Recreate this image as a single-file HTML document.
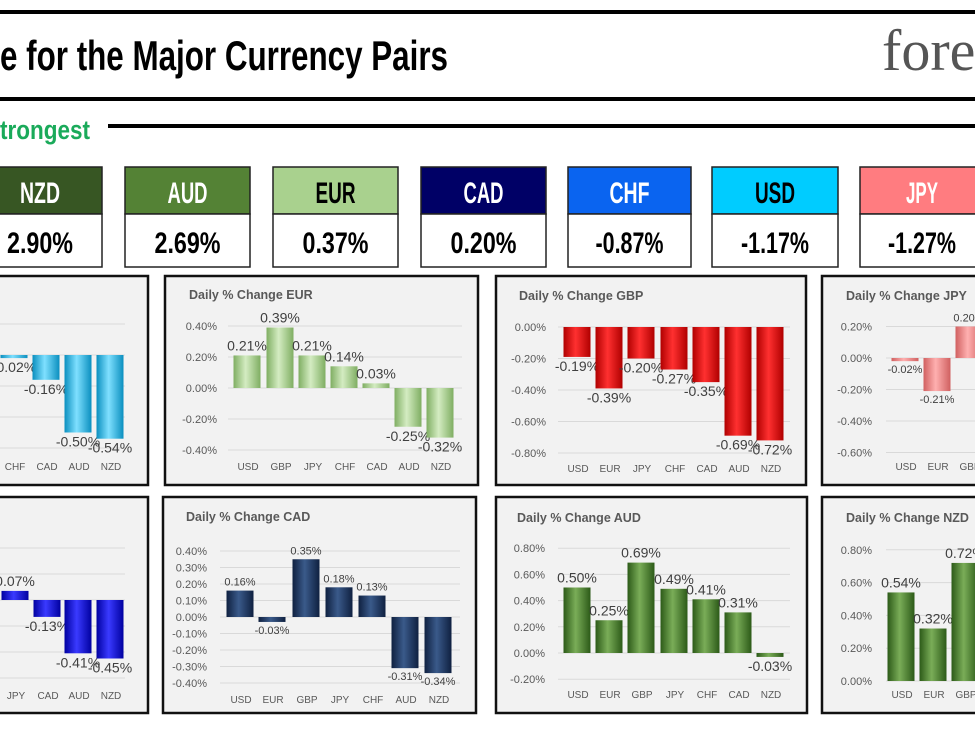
<!DOCTYPE html>
<html><head><meta charset="utf-8"><style>
html,body{margin:0;padding:0;background:#fff;}
svg{display:block;}
</style></head><body>
<svg id="s" width="975" height="732" xmlns="http://www.w3.org/2000/svg">
<defs>
<linearGradient id="gc" x1="0" x2="1"><stop offset="0" stop-color="#0a8fbf"/><stop offset="0.45" stop-color="#7fe0ff"/><stop offset="1" stop-color="#0a8fbf"/></linearGradient>
<linearGradient id="ge" x1="0" x2="1"><stop offset="0" stop-color="#7fae62"/><stop offset="0.45" stop-color="#d4ecc2"/><stop offset="1" stop-color="#7fae62"/></linearGradient>
<linearGradient id="gr" x1="0" x2="1"><stop offset="0" stop-color="#b00000"/><stop offset="0.45" stop-color="#ff3030"/><stop offset="1" stop-color="#b00000"/></linearGradient>
<linearGradient id="gp" x1="0" x2="1"><stop offset="0" stop-color="#d06060"/><stop offset="0.45" stop-color="#ffb0b0"/><stop offset="1" stop-color="#d06060"/></linearGradient>
<linearGradient id="gb" x1="0" x2="1"><stop offset="0" stop-color="#0000a0"/><stop offset="0.45" stop-color="#3a3aff"/><stop offset="1" stop-color="#0000a0"/></linearGradient>
<linearGradient id="gn" x1="0" x2="1"><stop offset="0" stop-color="#0f2040"/><stop offset="0.45" stop-color="#3a5a8a"/><stop offset="1" stop-color="#0f2040"/></linearGradient>
<linearGradient id="gg" x1="0" x2="1"><stop offset="0" stop-color="#2c5a18"/><stop offset="0.45" stop-color="#7aad58"/><stop offset="1" stop-color="#2c5a18"/></linearGradient>
</defs>
<rect x="0" y="10" width="975" height="4" fill="#000"/>
<rect x="0" y="97" width="975" height="4" fill="#000"/>
<text x="0" y="70" font-family="Liberation Sans, sans-serif" font-weight="bold" font-size="42" textLength="448" lengthAdjust="spacingAndGlyphs">e for the Major Currency Pairs</text>
<text x="882" y="70" font-family="Liberation Serif, serif" font-size="58" fill="#555">fore</text>
<text x="0" y="139" font-family="Liberation Sans, sans-serif" font-weight="bold" font-size="27" fill="#1aaa5a" textLength="90" lengthAdjust="spacingAndGlyphs">trongest</text>
<rect x="108" y="124" width="867" height="4" fill="#000"/>
<g id="boxes"></g>
<g id="charts"></g>
</svg>
<script>
var NS="http://www.w3.org/2000/svg";
function el(p,t,a,txt){var e=document.createElementNS(NS,t);for(var k in a)e.setAttribute(k,a[k]);if(txt!=null)e.textContent=txt;p.appendChild(e);return e;}
var B=document.getElementById('boxes');
var boxes=[[-30,102,'NZD','2.90%','#375623','#fff'],[125,250,'AUD','2.69%','#548235','#fff'],[273,398,'EUR','0.37%','#a9d18e','#000'],[421,546,'CAD','0.20%','#000066','#fff'],[568,691,'CHF','-0.87%','#0a64f0','#fff'],[712,838,'USD','-1.17%','#00ccff','#000'],[860,1000,'JPY','-1.27%','#ff7c80','#fff']];
boxes.forEach(function(b){
 var w=b[1]-b[0];
 el(B,'rect',{x:b[0],y:167,width:w,height:47,fill:b[4],stroke:'#222','stroke-width':1.5});
 el(B,'rect',{x:b[0],y:214,width:w,height:53,fill:'#fff',stroke:'#222','stroke-width':1.5});
 var cx=b[2]=='NZD'?40:(b[2]=='JPY'?922:(b[0]+b[1])/2);
 var lw=(b[2]=='JPY'?32:40), vw=b[3].length>5?68:66;
 el(B,'text',{x:cx-lw/2,y:203,'font-family':'Liberation Sans, sans-serif','font-weight':'bold','font-size':30,fill:b[5],textLength:lw,lengthAdjust:'spacingAndGlyphs'},b[2]);
 el(B,'text',{x:cx-vw/2,y:253,'font-family':'Liberation Sans, sans-serif','font-weight':'bold','font-size':30,fill:'#000',textLength:vw,lengthAdjust:'spacingAndGlyphs'},b[3]);
});
var C=document.getElementById('charts');
var P=[
 {r:[-10,276,158,209],t:null,z:355,s:155,ticks:[0.2,0,-0.2,-0.4,-0.6].map(function(v){return [v,null]}),ax:null,bars:[[14,'CHF',-0.02],[46,'CAD',-0.16],[78,'AUD',-0.50],[110,'NZD',-0.54]],g:'gc',ly:470,gx:[0,125],fs:14},
 {r:[165,276,313,209],t:['Daily % Change EUR',189,299],z:388,s:155,ticks:[[0.4,'0.40%'],[0.2,'0.20%'],[0,'0.00%'],[-0.2,'-0.20%'],[-0.4,'-0.40%']],ax:217,bars:[[247,'USD',0.21],[280,'GBP',0.39],[312,'JPY',0.21],[344,'CHF',0.14],[376,'CAD',0.03],[408,'AUD',-0.25],[440,'NZD',-0.32]],g:'ge',ly:470,gx:[228,462],fs:14},
 {r:[496,276,310,209],t:['Daily % Change GBP',519,300],z:327,s:157.5,ticks:[[0,'0.00%'],[-0.2,'-0.20%'],[-0.4,'-0.40%'],[-0.6,'-0.60%'],[-0.8,'-0.80%']],ax:546,bars:[[577,'USD',-0.19],[609,'EUR',-0.39],[641,'JPY',-0.20],[674,'CHF',-0.27],[706,'CAD',-0.35],[738,'AUD',-0.69],[770,'NZD',-0.72]],g:'gr',ly:472,gx:[558,790],fs:14},
 {r:[822,276,170,209],t:['Daily % Change JPY',846,300],z:358,s:157.5,ticks:[[0.2,'0.20%'],[0,'0.00%'],[-0.2,'-0.20%'],[-0.4,'-0.40%'],[-0.6,'-0.60%']],ax:872,bars:[[905,'USD',-0.02],[937,'EUR',-0.21],[969,'GBP',0.20]],g:'gp',ly:470,gx:[886,975],fs:11},
 {r:[-10,497,158,216],t:null,z:600,s:130,ticks:[0.4,0.2,0,-0.2,-0.4,-0.6].map(function(v){return [v,null]}),ax:null,bars:[[15,'JPY',0.07],[47,'CAD',-0.13],[78,'AUD',-0.41],[110,'NZD',-0.45]],g:'gb',ly:699,gx:[0,125],fs:14},
 {r:[163,497,313,216],t:['Daily % Change CAD',186,521],z:617,s:165,ticks:[[0.4,'0.40%'],[0.3,'0.30%'],[0.2,'0.20%'],[0.1,'0.10%'],[0,'0.00%'],[-0.1,'-0.10%'],[-0.2,'-0.20%'],[-0.3,'-0.30%'],[-0.4,'-0.40%']],ax:207,bars:[[240,'USD',0.16],[272,'EUR',-0.03],[306,'GBP',0.35],[339,'JPY',0.18],[372,'CHF',0.13],[405,'AUD',-0.31],[438,'NZD',-0.34]],g:'gn',ly:703,gx:[220,460],fs:11},
 {r:[496,497,311,216],t:['Daily % Change AUD',517,522],z:653,s:131,ticks:[[0.8,'0.80%'],[0.6,'0.60%'],[0.4,'0.40%'],[0.2,'0.20%'],[0,'0.00%'],[-0.2,'-0.20%']],ax:545,bars:[[577,'USD',0.50],[609,'EUR',0.25],[641,'GBP',0.69],[674,'JPY',0.49],[706,'CHF',0.41],[738,'CAD',0.31],[770,'NZD',-0.03]],g:'gg',ly:698,gx:[558,790],fs:14},
 {r:[822,497,170,216],t:['Daily % Change NZD',846,522],z:681,s:164,ticks:[[0.8,'0.80%'],[0.6,'0.60%'],[0.4,'0.40%'],[0.2,'0.20%'],[0,'0.00%']],ax:872,bars:[[901,'USD',0.54],[933,'EUR',0.32],[965,'GBP',0.72]],g:'gg',ly:698,gx:[886,975],fs:14}
];
var F='Liberation Sans, DejaVu Sans, sans-serif';
P.forEach(function(p){
 el(C,'rect',{x:p.r[0],y:p.r[1],width:p.r[2],height:p.r[3],fill:'#f2f2f2',stroke:'#111','stroke-width':2.5});
 if(p.t) el(C,'text',{x:p.t[1],y:p.t[2],'font-family':F,'font-weight':'bold','font-size':12.5,fill:'#595959'},p.t[0]);
 p.ticks.forEach(function(t){var y=p.z-t[0]*p.s;
  el(C,'line',{x1:p.gx[0],x2:p.gx[1],y1:y,y2:y,stroke:'#d9d9d9','stroke-width':1});
  if(t[1]) el(C,'text',{x:p.ax,y:y+4,'text-anchor':'end','font-family':F,'font-size':11,fill:'#595959'},t[1]);
 });
 p.bars.forEach(function(b){
  var h=Math.abs(b[2])*p.s,y=b[2]>=0?p.z-h:p.z;
  el(C,'rect',{x:b[0]-13.5,y:y,width:27,height:Math.max(h,2),fill:'url(#'+p.g+')'});
  var lab=b[2].toFixed(2)+'%';
  var ly=b[2]>=0?y-5:y+h+(p.fs>12?14:12);
  el(C,'text',{x:b[0],y:ly,'text-anchor':'middle','font-family':F,'font-size':p.fs,fill:'#404040'},lab);
  el(C,'text',{x:b[0]+1,y:p.ly,'text-anchor':'middle','font-family':F,'font-size':10,fill:'#595959'},b[1]);
 });
});
</script>
</body></html>
